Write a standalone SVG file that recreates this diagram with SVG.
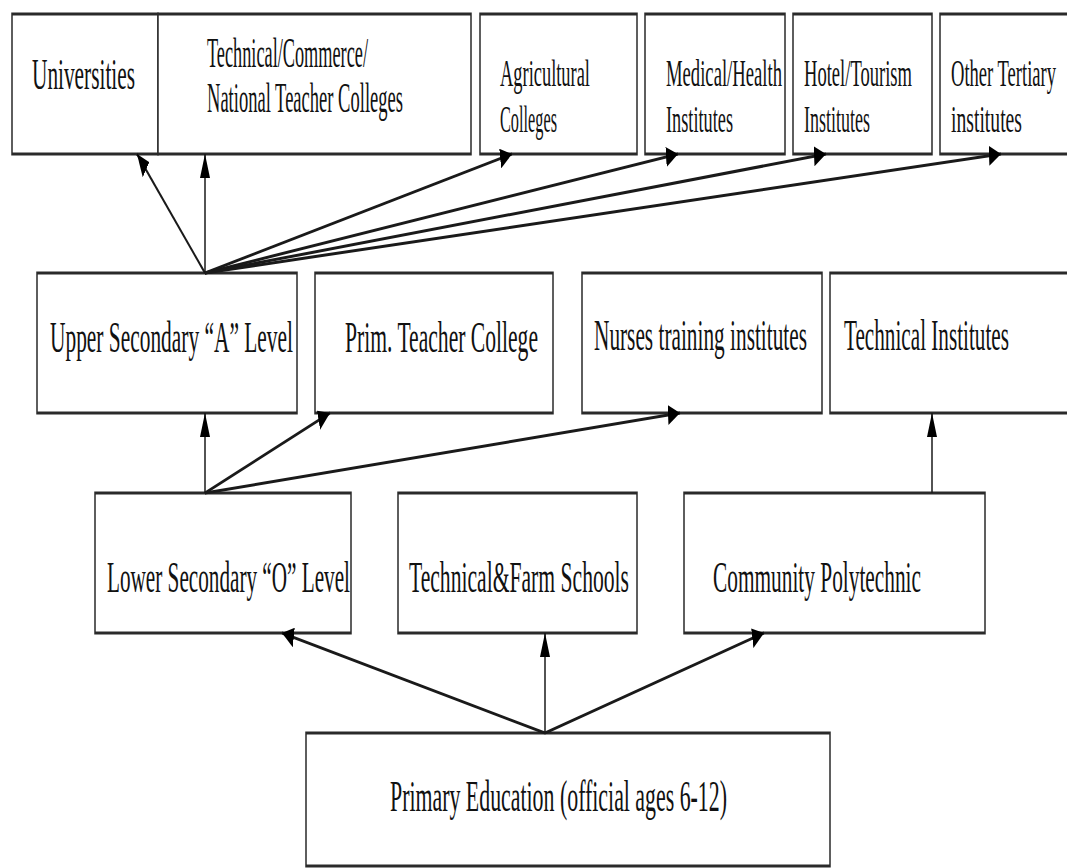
<svg xmlns="http://www.w3.org/2000/svg" width="1067" height="868" viewBox="0 0 1067 868">
<style>
.box{fill:#fff;stroke:#2a2a2a;stroke-width:1.5}
.t{font-family:"Liberation Serif","Times New Roman",serif;fill:#111;font-size:22px}
.s{font-size:19px}
.c{stroke:#1a1a1a;stroke-width:1.5;fill:none;marker-end:url(#ah)}
</style>
<defs>
<marker id="ah" markerUnits="userSpaceOnUse" markerWidth="12" markerHeight="10" refX="12" refY="5" orient="auto" viewBox="0 0 12 10">
<path d="M0,0 L12,5 L0,10 z" fill="#000"/>
</marker>
</defs>
<rect width="1067" height="868" fill="#fff"/>
<g transform="scale(1,2)">
<g id="universities">
<rect class="box" x="12" y="7" width="146" height="70"/>
<text class="t" x="32" y="44.5" textLength="103" lengthAdjust="spacingAndGlyphs">Universities</text>
</g>
<g id="technical-colleges">
<rect class="box" x="158" y="7" width="313" height="70"/>
<text class="t" style="font-size:21px" x="207" y="33.5" textLength="161" lengthAdjust="spacingAndGlyphs">Technical/Commerce/</text>
<text class="t" style="font-size:21px" x="207" y="56" textLength="196" lengthAdjust="spacingAndGlyphs">National Teacher Colleges</text>
</g>
<g id="agricultural">
<rect class="box" x="480" y="7" width="157" height="70"/>
<text class="t s" x="500" y="43" textLength="90" lengthAdjust="spacingAndGlyphs">Agricultural</text>
<text class="t s" x="500" y="66" textLength="57" lengthAdjust="spacingAndGlyphs">Colleges</text>
</g>
<g id="medical">
<rect class="box" x="645" y="7" width="140" height="70"/>
<text class="t s" x="666" y="43" textLength="116" lengthAdjust="spacingAndGlyphs">Medical/Health</text>
<text class="t s" x="666" y="66" textLength="67" lengthAdjust="spacingAndGlyphs">Institutes</text>
</g>
<g id="hotel">
<rect class="box" x="793" y="7" width="139" height="70"/>
<text class="t s" x="804" y="43" textLength="108" lengthAdjust="spacingAndGlyphs">Hotel/Tourism</text>
<text class="t s" x="804" y="66" textLength="66" lengthAdjust="spacingAndGlyphs">Institutes</text>
</g>
<g id="other-tertiary">
<rect class="box" x="940" y="7" width="140" height="70"/>
<text class="t s" x="951" y="43" textLength="105" lengthAdjust="spacingAndGlyphs">Other Tertiary</text>
<text class="t s" x="951" y="66" textLength="71" lengthAdjust="spacingAndGlyphs">institutes</text>
</g>
<g id="upper-secondary">
<rect class="box" x="37" y="136.5" width="260" height="70"/>
<text class="t" x="50" y="176" textLength="243" lengthAdjust="spacingAndGlyphs">Upper Secondary “A” Level</text>
</g>
<g id="prim-teacher">
<rect class="box" x="315" y="136.5" width="238" height="70"/>
<text class="t" x="345" y="176" textLength="193" lengthAdjust="spacingAndGlyphs">Prim. Teacher College</text>
</g>
<g id="nurses">
<rect class="box" x="582" y="136.5" width="240" height="70"/>
<text class="t" x="594" y="175" textLength="213" lengthAdjust="spacingAndGlyphs">Nurses training institutes</text>
</g>
<g id="technical-institutes">
<rect class="box" x="830" y="136.5" width="250" height="70"/>
<text class="t" x="844" y="175" textLength="165" lengthAdjust="spacingAndGlyphs">Technical Institutes</text>
</g>
<g id="lower-secondary">
<rect class="box" x="95" y="246.5" width="256" height="70"/>
<text class="t" x="107" y="296" textLength="243" lengthAdjust="spacingAndGlyphs">Lower Secondary “O” Level</text>
</g>
<g id="technical-farm">
<rect class="box" x="398" y="246.5" width="239" height="70"/>
<text class="t" x="409" y="296" textLength="220" lengthAdjust="spacingAndGlyphs">Technical&amp;Farm Schools</text>
</g>
<g id="community-polytechnic">
<rect class="box" x="684" y="246.5" width="301" height="70"/>
<text class="t" x="713" y="296" textLength="208" lengthAdjust="spacingAndGlyphs">Community Polytechnic</text>
</g>
<g id="primary">
<rect class="box" x="306" y="366.5" width="524" height="66.5"/>
<text class="t" x="390" y="405.5" textLength="337" lengthAdjust="spacingAndGlyphs">Primary Education (official ages 6-12)</text>
</g>
<g id="connectors">
<line class="c" x1="205" y1="136.5" x2="137" y2="77"/>
<line class="c" x1="205" y1="136.5" x2="205" y2="77"/>
<line class="c" x1="205" y1="136.5" x2="512" y2="77"/>
<line class="c" x1="205" y1="136.5" x2="678" y2="77"/>
<line class="c" x1="205" y1="136.5" x2="826" y2="77"/>
<line class="c" x1="205" y1="136.5" x2="1001" y2="77"/>
<line class="c" x1="205" y1="246.5" x2="205" y2="206.5"/>
<line class="c" x1="205" y1="246.5" x2="330" y2="206.5"/>
<line class="c" x1="205" y1="246.5" x2="680" y2="206.5"/>
<line class="c" x1="932" y1="246.5" x2="932" y2="206.5"/>
<line class="c" x1="545" y1="366.5" x2="282" y2="316.5"/>
<line class="c" x1="545" y1="366.5" x2="545" y2="316.5"/>
<line class="c" x1="545" y1="366.5" x2="764" y2="316.5"/>
</g>
</g>
</svg>
